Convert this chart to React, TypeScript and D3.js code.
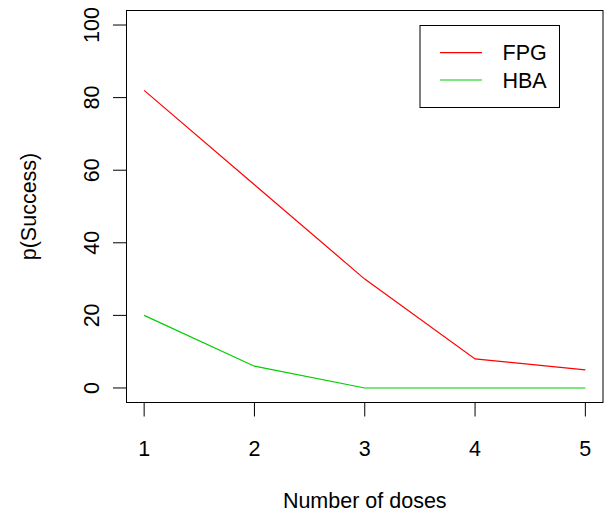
import React from "react";
import { scaleLinear, line } from "d3";

const doses = [1, 2, 3, 4, 5];
const fpg = [82, 56, 30, 8, 5];
const hba = [20, 6, 0, 0, 0];
const yTicks = [0, 20, 40, 60, 80, 100];
const seriesNames = ["FPG", "HBA"];
const seriesColors = ["#FF0000", "#00CD00"];

const W = 606;
const H = 514;
const box = { left: 126.5, right: 603, top: 10.5, bottom: 402.5 };
const font = "Liberation Sans, Arial, sans-serif";

function App() {
  // R style: 4% padding on each side of the data range
  const x = scaleLinear().domain([0.84, 5.16]).range([box.left, box.right]);
  const y = scaleLinear().domain([-4, 104]).range([box.bottom, box.top]);

  const path = line<number>()
    .x((_, i) => x(doses[i]))
    .y((d) => y(d));

  const series = [fpg, hba];

  return (
    <svg
      width={W}
      height={H}
      style={{ position: "absolute", left: 0, top: 0, background: "#fff" }}
      fontFamily={font}
      fontSize={21.5}
    >
      <rect x={0} y={0} width={W} height={H} fill="#fff" />
      <rect
        x={box.left}
        y={box.top}
        width={box.right - box.left}
        height={box.bottom - box.top}
        fill="none"
        stroke="#000"
        strokeWidth={1}
      />

      {/* x axis */}
      <line x1={x(1)} x2={x(5)} y1={box.bottom} y2={box.bottom} stroke="#000" />
      {doses.map((d) => (
        <g key={d}>
          <line x1={x(d)} x2={x(d)} y1={box.bottom} y2={box.bottom + 14} stroke="#000" />
          <text x={x(d)} y={456} textAnchor="middle">
            {d}
          </text>
        </g>
      ))}

      {/* y axis */}
      <line x1={box.left} x2={box.left} y1={y(0)} y2={y(100)} stroke="#000" />
      {yTicks.map((t) => (
        <g key={t}>
          <line x1={box.left - 13.5} x2={box.left} y1={y(t)} y2={y(t)} stroke="#000" />
          <text
            transform={`translate(${98.5},${y(t)}) rotate(-90)`}
            textAnchor="middle"
          >
            {t}
          </text>
        </g>
      ))}

      <text x={(box.left + box.right) / 2} y={508} textAnchor="middle">
        Number of doses
      </text>
      <text
        transform={`translate(${36},${(box.top + box.bottom) / 2}) rotate(-90)`}
        textAnchor="middle"
      >
        p(Success)
      </text>

      {series.map((s, i) => (
        <path key={i} d={path(s) || ""} fill="none" stroke={seriesColors[i]} strokeWidth={1.2} />
      ))}

      {/* legend */}
      <rect x={420} y={25.5} width={139.5} height={82} fill="#fff" stroke="#000" strokeWidth={1} />
      {seriesNames.map((n, i) => (
        <g key={n}>
          <line
            x1={440}
            x2={482}
            y1={52.7 + i * 27.3}
            y2={52.7 + i * 27.3}
            stroke={seriesColors[i]}
            strokeWidth={1.2}
          />
          <text x={502.5} y={52.7 + i * 27.3 + 7.7}>
            {n}
          </text>
        </g>
      ))}
    </svg>
  );
}

export default App;
